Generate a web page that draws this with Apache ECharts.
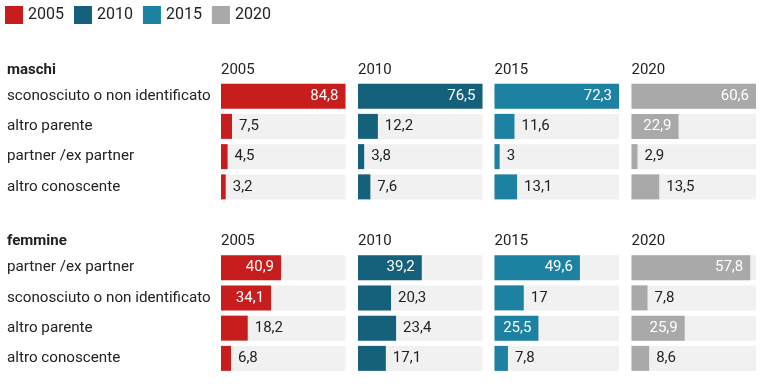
<!DOCTYPE html>
<html><head><meta charset="utf-8">
<script src="https://cdn.jsdelivr.net/npm/echarts@6/dist/echarts.min.js"></script>
<style>html,body{margin:0;padding:0;background:#fff}#c{width:768px;height:387px}</style>
</head><body><div id="c"></div>
<script>
const years = ['2005', '2010', '2015', '2020'];
const groups = ['maschi', 'femmine'];
const catMaschi = ['sconosciuto o non identificato', 'altro parente', 'partner /ex partner', 'altro conoscente'];
const catFemmine = ['partner /ex partner', 'sconosciuto o non identificato', 'altro parente', 'altro conoscente'];
const m2005 = [84.8, 7.5, 4.5, 3.2];
const m2010 = [76.5, 12.2, 3.8, 7.6];
const m2015 = [72.3, 11.6, 3, 13.1];
const m2020 = [60.6, 22.9, 2.9, 13.5];
const f2005 = [40.9, 34.1, 18.2, 6.8];
const f2010 = [39.2, 20.3, 23.4, 17.1];
const f2015 = [49.6, 17, 25.5, 7.8];
const f2020 = [57.8, 7.8, 25.9, 8.6];

const colors = ['#c71e1d', '#15607a', '#1d81a2', '#a9a9a9'];
const groupData = [[m2005, m2010, m2015, m2020], [f2005, f2010, f2015, f2020]];
const groupCats = [catMaschi, catFemmine];
const colMax = years.map((y, i) => Math.max(...groupData[0][i], ...groupData[1][i]));

const FONT = 'Roboto';
const colLeft = [221, 358, 494.5, 631.5];
const colWidth = 124.5;
const groupTop = [81, 252.5];
const gridH = 121;

const grids = [], xAxes = [], yAxes = [], series = [], titles = [];
groups.forEach((g, gi) => {
  titles.push({ text: g, left: 7, top: groupTop[gi] - 18.5, padding: 0, textStyle: { fontFamily: FONT, fontSize: 15, fontWeight: 'bold', color: '#222' } });
  years.forEach((y, yi) => {
    const idx = grids.length;
    grids.push({ left: colLeft[yi], width: colWidth, top: groupTop[gi], height: gridH });
    titles.push({ text: y, left: colLeft[yi], top: groupTop[gi] - 18.5, padding: 0, textStyle: { fontFamily: FONT, fontSize: 15, fontWeight: 'normal', color: '#222' } });
    xAxes.push({ gridIndex: idx, type: 'value', min: 0, max: colMax[yi], show: false });
    yAxes.push({
      gridIndex: idx, type: 'category', inverse: true, data: groupCats[gi],
      axisLine: { show: false }, axisTick: { show: false }, splitLine: { show: false },
      axisLabel: { show: yi === 0, align: 'left', margin: colLeft[0] - 7, fontFamily: FONT, fontSize: 15.2, color: '#222' }
    });
    const vals = groupData[gi][yi];
    series.push({
      name: y, type: 'bar', xAxisIndex: idx, yAxisIndex: idx, barWidth: 25,
      itemStyle: { color: colors[yi] },
      showBackground: true, backgroundStyle: { color: '#f1f1f1' },
      silent: true, animation: false,
      data: vals.map(v => {
        const inside = v >= 25 || (yi === 3 && v >= 20);
        return {
          value: v,
          label: {
            show: true,
            position: inside ? 'insideRight' : 'right',
            distance: 7,
            color: inside ? '#ffffff' : '#222',
            fontFamily: FONT, fontSize: 15,
            formatter: p => String(p.value).replace('.', ',')
          }
        };
      })
    });
  });
});

const chart = echarts.init(document.getElementById('c'), null, { renderer: 'canvas' });
chart.setOption({
  animation: false,
  title: titles,
  legend: {
    left: 5, top: 6, padding: 0, itemWidth: 18, itemHeight: 18, icon: 'rect', itemGap: 10,
    data: years, selectedMode: false,
    textStyle: { fontFamily: FONT, fontSize: 16, color: '#222' }
  },
  grid: grids, xAxis: xAxes, yAxis: yAxes, series: series
});
</script></body></html>
